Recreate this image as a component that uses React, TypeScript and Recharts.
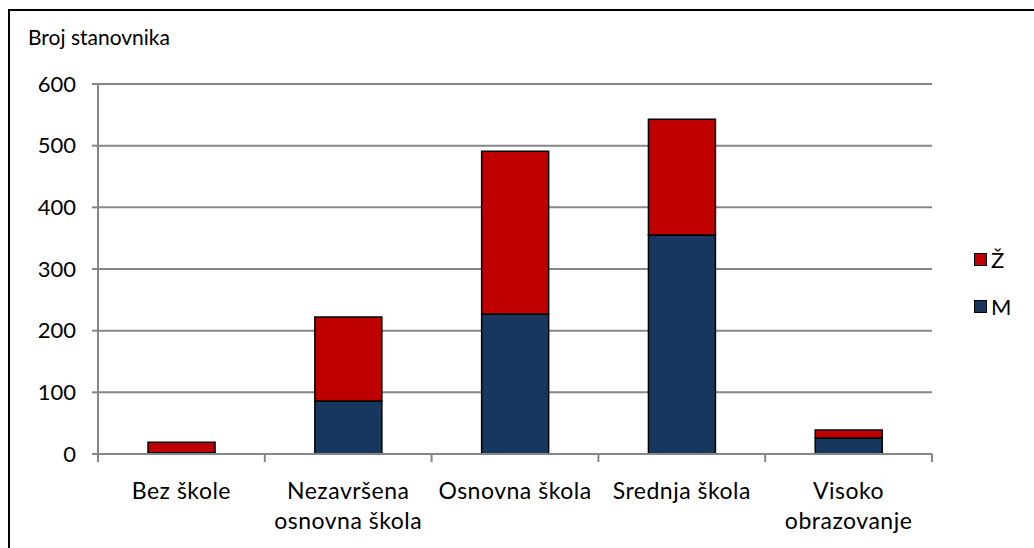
import { Bar, BarChart, CartesianGrid, Legend, XAxis, YAxis } from "recharts";

const categories = ["Bez škole", "Nezavršena osnovna škola", "Osnovna škola", "Srednja škola", "Visoko obrazovanje"];
const tickLines = [["Bez škole"], ["Nezavršena", "osnovna škola"], ["Osnovna škola"], ["Srednja škola"], ["Visoko", "obrazovanje"]];
const muski = [2, 86, 227, 355, 26];
const zenski = [17, 136, 264, 188, 13];
const yTicks = [0, 100, 200, 300, 400, 500, 600];

const data = categories.map((name, i) => ({ name, M: muski[i], Ž: zenski[i] }));

const FONT = "Lato, 'Open Sans', sans-serif";
const GREY = "#868686";

// label plus Excel-style tick marks between categories
const CategoryTick = (props: any) => {
  const { x, y, index, width, visibleTicksCount } = props;
  const lines = tickLines[index] || [props.payload.value];
  const band = width / (visibleTicksCount || categories.length);
  const last = index === (visibleTicksCount || categories.length) - 1;
  return (
    <g>
      <line x1={x - band / 2} x2={x - band / 2} y1={y} y2={y + 8} stroke={GREY} strokeWidth={2} />
      {last && <line x1={x + band / 2} x2={x + band / 2} y1={y} y2={y + 8} stroke={GREY} strokeWidth={2} />}
      <text x={x} y={y} textAnchor="middle" fontSize={23} letterSpacing={0.5} fontFamily={FONT} fill="#000">
        {lines.map((l, i) => (
          <tspan key={i} x={x} dy={i === 0 ? 45 : 30}>
            {l}
          </tspan>
        ))}
      </text>
    </g>
  );
};

const LegendBox = (props: any) => {
  const items = [...(props.payload || [])].reverse();
  return (
    <div style={{ fontFamily: FONT, fontSize: 22, color: "#000" }}>
      {items.map((it: any) => (
        <div key={it.value} style={{ display: "flex", alignItems: "center", height: 47 }}>
          <span
            style={{
              display: "inline-block",
              width: 11,
              height: 11,
              background: it.color,
              border: "1.5px solid #000",
              marginRight: 4,
            }}
          />
          <span>{it.value}</span>
        </div>
      ))}
    </div>
  );
};

const App = () => {
  return (
    <div style={{ position: "fixed", left: 0, top: 0, width: 1034, height: 548, overflow: "hidden", background: "#fff", fontFamily: FONT }}>
      <div
        style={{
          position: "absolute",
          left: 8,
          top: 9,
          width: 1060,
          height: 560,
          border: "2px solid #000",
        }}
      />
      <div style={{ position: "absolute", left: 28, top: 26, fontSize: 21, lineHeight: 1, color: "#000" }}>
        Broj stanovnika
      </div>
      <div style={{ position: "absolute", left: 0, top: 0 }}>
        <BarChart
          width={1034}
          height={548}
          data={data}
          margin={{ top: 84, right: 102, left: 0, bottom: 0 }}
          barCategoryGap="30%"
        >
          <CartesianGrid horizontal={true} vertical={false} stroke={GREY} strokeWidth={2} />
          <XAxis
            dataKey="name"
            height={94}
            axisLine={{ stroke: GREY, strokeWidth: 2 }}
            tickLine={false}
            tickSize={0}
            tickMargin={0}
            tick={<CategoryTick />}
            interval={0}
          />
          <YAxis
            width={98}
            domain={[0, 600]}
            ticks={yTicks}
            tickSize={6}
            tickMargin={16}
            axisLine={{ stroke: GREY, strokeWidth: 2 }}
            tickLine={{ stroke: GREY, strokeWidth: 2 }}
            tick={{ fontSize: 22, fontFamily: FONT, fill: "#000" }}
          />
          <Legend
            layout="vertical"
            align="center"
            verticalAlign="middle"
            content={<LegendBox />}
            wrapperStyle={{ left: 974, top: 236, width: 60 }}
          />
          <Bar dataKey="M" stackId="a" fill="#17375E" stroke="#000" strokeWidth={1.5} isAnimationActive={false} />
          <Bar dataKey="Ž" stackId="a" fill="#C00000" stroke="#000" strokeWidth={1.5} isAnimationActive={false} />
        </BarChart>
      </div>
    </div>
  );
};

export default App;
